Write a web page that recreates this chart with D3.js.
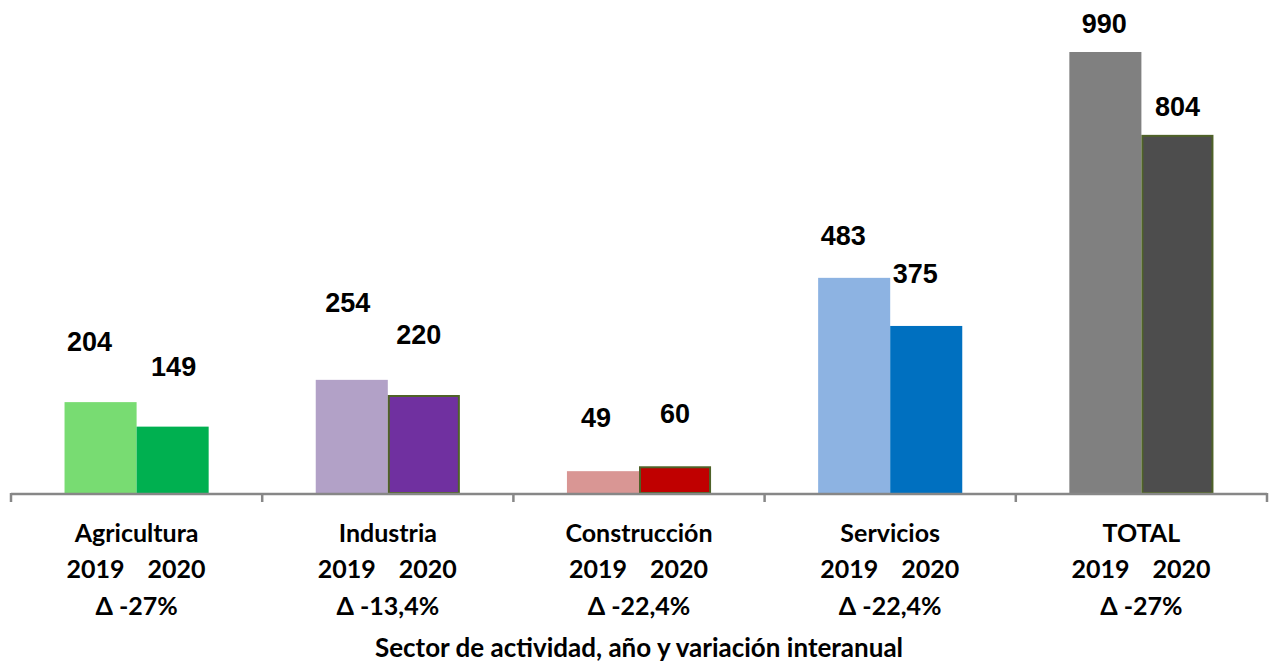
<!DOCTYPE html>
<html>
<head>
    <meta charset="utf-8">
    <title>Sector de actividad</title>
    <script src="https://cdnjs.cloudflare.com/ajax/libs/d3/7.8.5/d3.min.js"></script>
    <style>
        body{ margin:0; background:#fff; }
        svg{ display:block; }
        .val{ font-family:"Liberation Sans", Arial, sans-serif; font-weight:bold; font-size:27px; }
        .cat{ font-family:Lato, "Open Sans", sans-serif; font-weight:bold; font-size:25px; }
        .ttl{ font-family:Lato, "Open Sans", sans-serif; font-weight:bold; font-size:26px; }
    </style>
</head>
<body>
<script>
    // data
    const categories = ['Agricultura', 'Industria', 'Construcción', 'Servicios', 'TOTAL'];
    const years = ['2019', '2020'];
    const values2019 = [204, 254, 49, 483, 990];
    const values2020 = [149, 220, 60, 375, 804];
    const variation = ['Δ -27%', 'Δ -13,4%', 'Δ -22,4%', 'Δ -22,4%', 'Δ -27%'];

    // styling
    const colors2019 = ['#78dc72', '#b2a1c7', '#d99694', '#8db3e2', '#808080'];
    const colors2020 = ['#00b050', '#7030a0', '#c00000', '#0070c0', '#4d4d4d'];
    const outline2020 = [false, true, true, false, true];
    // hand placed labels in the original: [dx, lift above bar]
    const nudge2019 = [[-11, 51], [-4, 68], [-7, 44], [-11, 33], [-1, 19]];
    const nudge2020 = [[1, 51], [-5, 51], [0, 43], [-11, 43], [0, 19]];

    const W = 1269, H = 663;
    const svg = d3.select('body').append('svg')
        .attr('width', W)
        .attr('height', H);

    const x = d3.scaleBand().domain(categories).range([11, 1267]).padding(0);
    const x1 = d3.scaleBand().domain(years).range([0, x.bandwidth()])
        .paddingInner(0).paddingOuter(0.743);
    const y = d3.scaleLinear().domain([0, 990]).range([493, 52]);

    const rows = categories.map((c, i) => ({
        cat: c, i: i,
        bars: [
            {year: '2019', v: values2019[i], fill: colors2019[i], stroke: false, nudge: nudge2019[i]},
            {year: '2020', v: values2020[i], fill: colors2020[i], stroke: outline2020[i], nudge: nudge2020[i]}
        ]
    }));

    const groups = svg.selectAll('g.grp').data(rows).enter()
        .append('g')
        .attr('class', 'grp')
        .attr('transform', d => `translate(${x(d.cat)},0)`);

    // bars
    groups.selectAll('rect').data(d => d.bars).enter()
        .append('rect')
        .attr('x', d => x1(d.year) + (d.stroke ? 1 : 0))
        .attr('y', d => y(d.v) + (d.stroke ? 1 : 0))
        .attr('width', d => x1.bandwidth() - (d.stroke ? 2 : 0))
        .attr('height', d => y(0) - y(d.v) - (d.stroke ? 1 : 0))
        .attr('fill', d => d.fill)
        .attr('stroke', d => d.stroke ? '#4f6228' : 'none')
        .attr('stroke-width', 2);

    // value labels
    groups.selectAll('text.val').data(d => d.bars).enter()
        .append('text')
        .attr('class', 'val')
        .attr('x', d => x1(d.year) + x1.bandwidth() / 2 + d.nudge[0])
        .attr('y', d => y(d.v) - d.nudge[1])
        .attr('text-anchor', 'middle')
        .text(d => d.v);

    // axis line + ticks at band edges
    const edges = categories.map(c => x(c)).concat([x.range()[1]]);
    const axis = svg.append('g').attr('stroke', '#878787').attr('stroke-width', 2.5).attr('fill', 'none');
    axis.append('line')
        .attr('x1', edges[0]).attr('x2', edges[edges.length - 1])
        .attr('y1', y(0) + 1).attr('y2', y(0) + 1);
    axis.selectAll('line.tick').data(edges).enter()
        .append('line')
        .attr('class', 'tick')
        .attr('x1', d => d).attr('x2', d => d)
        .attr('y1', y(0)).attr('y2', y(0) + 9);

    // category labels
    const mid = x.bandwidth() / 2;
    groups.append('text').attr('class', 'cat')
        .attr('x', mid).attr('y', 542)
        .attr('text-anchor', 'middle')
        .text(d => d.cat);
    groups.append('text').attr('class', 'cat')
        .attr('x', mid - 12).attr('y', 578)
        .attr('text-anchor', 'end')
        .text(years[0]);
    groups.append('text').attr('class', 'cat')
        .attr('x', mid + 11).attr('y', 578)
        .attr('text-anchor', 'start')
        .text(years[1]);
    groups.append('text').attr('class', 'cat')
        .attr('x', mid).attr('y', 615)
        .attr('text-anchor', 'middle')
        .text(d => variation[d.i]);

    // axis title
    svg.append('text').attr('class', 'ttl')
        .attr('x', (x.range()[0] + x.range()[1]) / 2)
        .attr('y', 657)
        .attr('text-anchor', 'middle')
        .text('Sector de actividad, año y variación interanual');
</script>
</body>
</html>
